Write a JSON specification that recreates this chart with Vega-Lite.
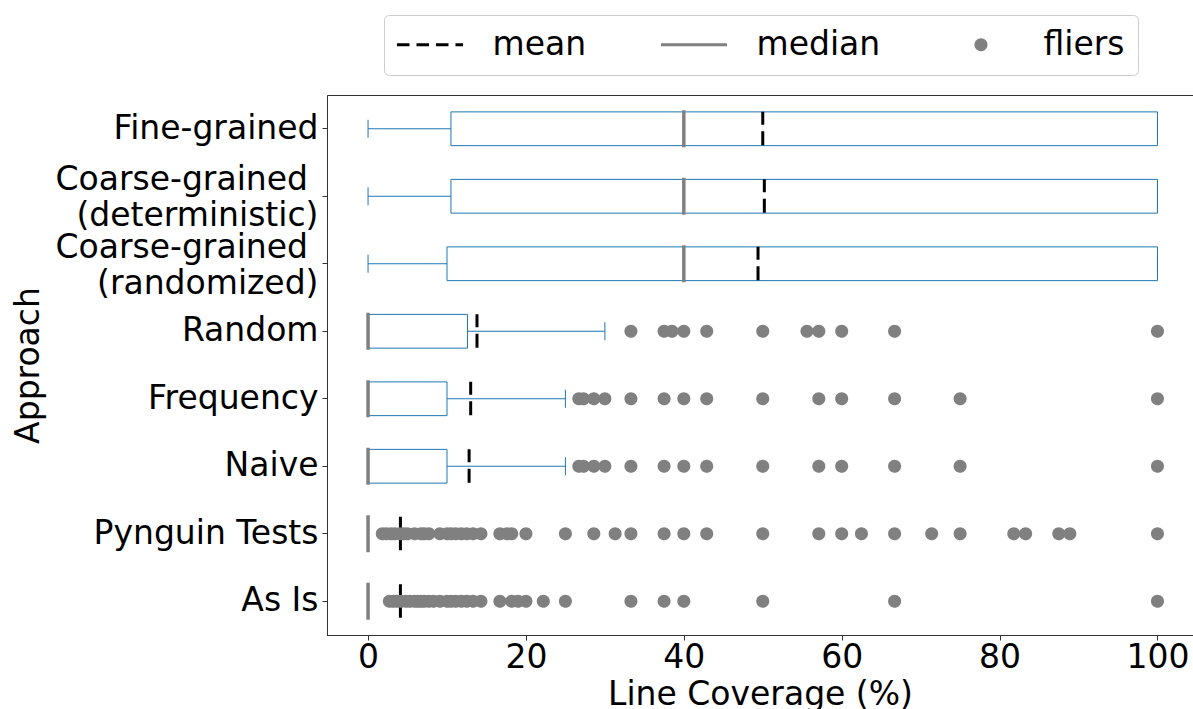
{
  "$schema": "https://vega.github.io/schema/vega-lite/v6.json",
  "width": 866,
  "height": 540,
  "autosize": {"type": "none"},
  "padding": {"left": 327, "top": 95, "right": 0, "bottom": 74},
  "background": "white",
  "config": {
    "font": "DejaVu Sans",
    "view": {"stroke": "#333333", "strokeWidth": 1},
    "axis": {
      "labelFont": "DejaVu Sans",
      "titleFont": "DejaVu Sans",
      "labelFontSize": 33,
      "titleFontSize": 33,
      "titleFontWeight": "normal",
      "labelColor": "#000000",
      "titleColor": "#000000",
      "tickColor": "#333333",
      "domainColor": "#333333",
      "tickSize": 5,
      "grid": false
    },
    "axisX": {"labelPadding": 1, "titlePadding": 4, "labelFlush": false, "labelOverlap": false},
    "axisY": {"labelPadding": 4, "labelLimit": 400, "labelLineHeight": 36},
    "legend": {
      "orient": "none",
      "legendX": 57,
      "legendY": -80,
      "direction": "horizontal",
      "padding": 13,
      "strokeColor": "#cccccc",
      "fillColor": "white",
      "cornerRadius": 5,
      "labelFont": "DejaVu Sans",
      "labelFontSize": 33,
      "labelColor": "#000000",
      "labelOffset": 46,
      "symbolOffset": 16.5,
      "symbolSize": 676,
      "symbolStrokeWidth": 3,
      "columnPadding": 67,
      "labelLimit": 300
    }
  },
  "datasets": {
    "stats": [
      {"a": "Fine-grained", "q1": 10.5, "q3": 100, "med": 40, "mean": 50.0, "lo": 0, "hi": 100},
      {"a": "Coarse-grained\u00a0\u200b\n(deterministic)", "q1": 10.5, "q3": 100, "med": 40, "mean": 50.2, "lo": 0, "hi": 100},
      {"a": "Coarse-grained\u00a0\u200b\n(randomized)", "q1": 10.0, "q3": 100, "med": 40, "mean": 49.4, "lo": 0, "hi": 100},
      {"a": "Random", "q1": 0, "q3": 12.6, "med": 0, "mean": 13.8, "lo": 0, "hi": 30},
      {"a": "Frequency", "q1": 0, "q3": 10, "med": 0, "mean": 13.0, "lo": 0, "hi": 25},
      {"a": "Naive", "q1": 0, "q3": 10, "med": 0, "mean": 12.8, "lo": 0, "hi": 25},
      {"a": "Pynguin Tests", "q1": 0, "q3": 0, "med": 0, "mean": 4.1, "lo": 0, "hi": 0},
      {"a": "As Is", "q1": 0, "q3": 0, "med": 0, "mean": 4.1, "lo": 0, "hi": 0}
    ],
    "fliers": [
      {"a": "Random", "v": 33.3, "kind": "fliers"},
      {"a": "Random", "v": 37.5, "kind": "fliers"},
      {"a": "Random", "v": 38.5, "kind": "fliers"},
      {"a": "Random", "v": 40, "kind": "fliers"},
      {"a": "Random", "v": 42.9, "kind": "fliers"},
      {"a": "Random", "v": 50, "kind": "fliers"},
      {"a": "Random", "v": 55.6, "kind": "fliers"},
      {"a": "Random", "v": 57.1, "kind": "fliers"},
      {"a": "Random", "v": 60, "kind": "fliers"},
      {"a": "Random", "v": 66.7, "kind": "fliers"},
      {"a": "Random", "v": 100, "kind": "fliers"},
      {"a": "Frequency", "v": 26.7, "kind": "fliers"},
      {"a": "Frequency", "v": 27.3, "kind": "fliers"},
      {"a": "Frequency", "v": 28.6, "kind": "fliers"},
      {"a": "Frequency", "v": 30, "kind": "fliers"},
      {"a": "Frequency", "v": 33.3, "kind": "fliers"},
      {"a": "Frequency", "v": 37.5, "kind": "fliers"},
      {"a": "Frequency", "v": 40, "kind": "fliers"},
      {"a": "Frequency", "v": 42.9, "kind": "fliers"},
      {"a": "Frequency", "v": 50, "kind": "fliers"},
      {"a": "Frequency", "v": 57.1, "kind": "fliers"},
      {"a": "Frequency", "v": 60, "kind": "fliers"},
      {"a": "Frequency", "v": 66.7, "kind": "fliers"},
      {"a": "Frequency", "v": 75, "kind": "fliers"},
      {"a": "Frequency", "v": 100, "kind": "fliers"},
      {"a": "Naive", "v": 26.7, "kind": "fliers"},
      {"a": "Naive", "v": 27.3, "kind": "fliers"},
      {"a": "Naive", "v": 28.6, "kind": "fliers"},
      {"a": "Naive", "v": 30, "kind": "fliers"},
      {"a": "Naive", "v": 33.3, "kind": "fliers"},
      {"a": "Naive", "v": 37.5, "kind": "fliers"},
      {"a": "Naive", "v": 40, "kind": "fliers"},
      {"a": "Naive", "v": 42.9, "kind": "fliers"},
      {"a": "Naive", "v": 50, "kind": "fliers"},
      {"a": "Naive", "v": 57.1, "kind": "fliers"},
      {"a": "Naive", "v": 60, "kind": "fliers"},
      {"a": "Naive", "v": 66.7, "kind": "fliers"},
      {"a": "Naive", "v": 75, "kind": "fliers"},
      {"a": "Naive", "v": 100, "kind": "fliers"},
      {"a": "Pynguin Tests", "v": 1.8, "kind": "fliers"},
      {"a": "Pynguin Tests", "v": 2.3, "kind": "fliers"},
      {"a": "Pynguin Tests", "v": 2.9, "kind": "fliers"},
      {"a": "Pynguin Tests", "v": 3.4, "kind": "fliers"},
      {"a": "Pynguin Tests", "v": 4.0, "kind": "fliers"},
      {"a": "Pynguin Tests", "v": 4.5, "kind": "fliers"},
      {"a": "Pynguin Tests", "v": 5.0, "kind": "fliers"},
      {"a": "Pynguin Tests", "v": 5.9, "kind": "fliers"},
      {"a": "Pynguin Tests", "v": 6.7, "kind": "fliers"},
      {"a": "Pynguin Tests", "v": 7.1, "kind": "fliers"},
      {"a": "Pynguin Tests", "v": 7.7, "kind": "fliers"},
      {"a": "Pynguin Tests", "v": 9.1, "kind": "fliers"},
      {"a": "Pynguin Tests", "v": 10.0, "kind": "fliers"},
      {"a": "Pynguin Tests", "v": 10.5, "kind": "fliers"},
      {"a": "Pynguin Tests", "v": 11.1, "kind": "fliers"},
      {"a": "Pynguin Tests", "v": 11.8, "kind": "fliers"},
      {"a": "Pynguin Tests", "v": 12.5, "kind": "fliers"},
      {"a": "Pynguin Tests", "v": 13.3, "kind": "fliers"},
      {"a": "Pynguin Tests", "v": 14.3, "kind": "fliers"},
      {"a": "Pynguin Tests", "v": 16.7, "kind": "fliers"},
      {"a": "Pynguin Tests", "v": 17.6, "kind": "fliers"},
      {"a": "Pynguin Tests", "v": 18.2, "kind": "fliers"},
      {"a": "Pynguin Tests", "v": 20, "kind": "fliers"},
      {"a": "Pynguin Tests", "v": 25, "kind": "fliers"},
      {"a": "Pynguin Tests", "v": 28.6, "kind": "fliers"},
      {"a": "Pynguin Tests", "v": 31.3, "kind": "fliers"},
      {"a": "Pynguin Tests", "v": 33.3, "kind": "fliers"},
      {"a": "Pynguin Tests", "v": 37.5, "kind": "fliers"},
      {"a": "Pynguin Tests", "v": 40, "kind": "fliers"},
      {"a": "Pynguin Tests", "v": 42.9, "kind": "fliers"},
      {"a": "Pynguin Tests", "v": 50, "kind": "fliers"},
      {"a": "Pynguin Tests", "v": 57.1, "kind": "fliers"},
      {"a": "Pynguin Tests", "v": 60, "kind": "fliers"},
      {"a": "Pynguin Tests", "v": 62.5, "kind": "fliers"},
      {"a": "Pynguin Tests", "v": 66.7, "kind": "fliers"},
      {"a": "Pynguin Tests", "v": 71.4, "kind": "fliers"},
      {"a": "Pynguin Tests", "v": 75, "kind": "fliers"},
      {"a": "Pynguin Tests", "v": 81.8, "kind": "fliers"},
      {"a": "Pynguin Tests", "v": 83.3, "kind": "fliers"},
      {"a": "Pynguin Tests", "v": 87.5, "kind": "fliers"},
      {"a": "Pynguin Tests", "v": 88.9, "kind": "fliers"},
      {"a": "Pynguin Tests", "v": 100, "kind": "fliers"},
      {"a": "As Is", "v": 2.7, "kind": "fliers"},
      {"a": "As Is", "v": 3.2, "kind": "fliers"},
      {"a": "As Is", "v": 3.7, "kind": "fliers"},
      {"a": "As Is", "v": 4.2, "kind": "fliers"},
      {"a": "As Is", "v": 4.8, "kind": "fliers"},
      {"a": "As Is", "v": 5.3, "kind": "fliers"},
      {"a": "As Is", "v": 5.9, "kind": "fliers"},
      {"a": "As Is", "v": 6.3, "kind": "fliers"},
      {"a": "As Is", "v": 6.7, "kind": "fliers"},
      {"a": "As Is", "v": 7.1, "kind": "fliers"},
      {"a": "As Is", "v": 7.7, "kind": "fliers"},
      {"a": "As Is", "v": 8.3, "kind": "fliers"},
      {"a": "As Is", "v": 9.1, "kind": "fliers"},
      {"a": "As Is", "v": 10, "kind": "fliers"},
      {"a": "As Is", "v": 10.5, "kind": "fliers"},
      {"a": "As Is", "v": 11.1, "kind": "fliers"},
      {"a": "As Is", "v": 11.8, "kind": "fliers"},
      {"a": "As Is", "v": 12.5, "kind": "fliers"},
      {"a": "As Is", "v": 13.3, "kind": "fliers"},
      {"a": "As Is", "v": 14.3, "kind": "fliers"},
      {"a": "As Is", "v": 16.7, "kind": "fliers"},
      {"a": "As Is", "v": 18.2, "kind": "fliers"},
      {"a": "As Is", "v": 19.0, "kind": "fliers"},
      {"a": "As Is", "v": 20, "kind": "fliers"},
      {"a": "As Is", "v": 22.2, "kind": "fliers"},
      {"a": "As Is", "v": 25, "kind": "fliers"},
      {"a": "As Is", "v": 33.3, "kind": "fliers"},
      {"a": "As Is", "v": 37.5, "kind": "fliers"},
      {"a": "As Is", "v": 40, "kind": "fliers"},
      {"a": "As Is", "v": 50, "kind": "fliers"},
      {"a": "As Is", "v": 66.7, "kind": "fliers"},
      {"a": "As Is", "v": 100, "kind": "fliers"}
    ]
  },
  "encoding": {
    "y": {
      "field": "a",
      "type": "nominal",
      "title": "Approach",
      "sort": null,
      "scale": {
        "domain": ["Fine-grained", "Coarse-grained\u00a0\u200b\n(deterministic)", "Coarse-grained\u00a0\u200b\n(randomized)", "Random", "Frequency", "Naive", "Pynguin Tests", "As Is"],
        "paddingInner": 0,
        "paddingOuter": 0
      },
      "axis": {
        "labelExpr": "split(datum.label, '\\n')",
        "labelOffset": {"expr": "indexof(datum.value, '\\n') >= 0 ? -16 : 0"},
        "titleX": -289,
        "titleY": 270,
        "titleAngle": -90,
        "titleAlign": "center",
        "titleBaseline": "alphabetic"
      }
    }
  },
  "layer": [
    {
      "data": {"name": "stats"},
      "mark": {"type": "bar", "height": {"band": 0.5}, "fill": "white", "fillOpacity": 0, "stroke": "#1f77b4", "strokeWidth": 1},
      "encoding": {
        "x": {"field": "q1", "type": "quantitative", "title": "Line Coverage (%)", "scale": {"domain": [-5.2, 104.5], "nice": false, "zero": false}, "axis": {"values": [0, 20, 40, 60, 80, 100]}},
        "x2": {"field": "q3"}
      }
    },
    {
      "data": {"name": "stats"},
      "mark": {"type": "rule", "color": "#1f77b4", "strokeWidth": 1},
      "encoding": {
        "x": {"field": "lo", "type": "quantitative", "title": "Line Coverage (%)", "scale": {"domain": [-5.2, 104.5], "nice": false, "zero": false}},
        "x2": {"field": "q1"}
      }
    },
    {
      "data": {"name": "stats"},
      "mark": {"type": "rule", "color": "#1f77b4", "strokeWidth": 1},
      "encoding": {
        "x": {"field": "q3", "type": "quantitative", "title": "Line Coverage (%)", "scale": {"domain": [-5.2, 104.5], "nice": false, "zero": false}},
        "x2": {"field": "hi"}
      }
    },
    {
      "data": {"name": "stats"},
      "mark": {"type": "tick", "color": "#1f77b4", "size": 18, "thickness": 1, "opacity": 1},
      "encoding": {
        "x": {"field": "lo", "type": "quantitative", "title": "Line Coverage (%)", "scale": {"domain": [-5.2, 104.5], "nice": false, "zero": false}}
      }
    },
    {
      "data": {"name": "stats"},
      "mark": {"type": "tick", "color": "#1f77b4", "size": 18, "thickness": 1, "opacity": 1},
      "encoding": {
        "x": {"field": "hi", "type": "quantitative", "title": "Line Coverage (%)", "scale": {"domain": [-5.2, 104.5], "nice": false, "zero": false}}
      }
    },
    {
      "data": {"name": "stats"},
      "mark": {"type": "tick", "color": "#808080", "size": 37, "thickness": 3.5, "opacity": 1},
      "encoding": {
        "x": {"field": "med", "type": "quantitative", "title": "Line Coverage (%)", "scale": {"domain": [-5.2, 104.5], "nice": false, "zero": false}}
      }
    },
    {
      "data": {"name": "stats"},
      "mark": {"type": "tick", "color": "#000000", "size": 13, "thickness": 3, "opacity": 1, "yOffset": -10.5},
      "encoding": {
        "x": {"field": "mean", "type": "quantitative", "title": "Line Coverage (%)", "scale": {"domain": [-5.2, 104.5], "nice": false, "zero": false}}
      }
    },
    {
      "data": {"name": "stats"},
      "mark": {"type": "tick", "color": "#000000", "size": 14, "thickness": 3, "opacity": 1, "yOffset": 9.5},
      "encoding": {
        "x": {"field": "mean", "type": "quantitative", "title": "Line Coverage (%)", "scale": {"domain": [-5.2, 104.5], "nice": false, "zero": false}}
      }
    },
    {
      "data": {"name": "fliers"},
      "mark": {"type": "point", "filled": true, "size": 676, "strokeWidth": 3, "opacity": 1},
      "encoding": {
        "x": {"field": "v", "type": "quantitative", "title": "Line Coverage (%)", "scale": {"domain": [-5.2, 104.5], "nice": false, "zero": false}},
        "fill": {"field": "kind", "type": "nominal", "scale": {"domain": ["mean", "median", "fliers"], "range": ["#000000", "#808080", "#808080"]}, "legend": {"title": null}},
        "stroke": {"field": "kind", "type": "nominal", "scale": {"domain": ["mean", "median", "fliers"], "range": ["#000000", "#808080", "#808080"]}, "legend": {"title": null}},
        "shape": {"field": "kind", "type": "nominal", "scale": {"domain": ["mean", "median", "fliers"], "range": ["M-2.54,0L2.54,0", "M-2.54,0L2.54,0", "M-0.385,0A0.385,0.385,0,1,0,0.385,0A0.385,0.385,0,1,0,-0.385,0Z"]}, "legend": {"title": null}},
        "strokeDash": {"field": "kind", "type": "nominal", "scale": {"domain": ["mean", "median", "fliers"], "range": [[12.5, 7], [1, 0], [1, 0]]}, "legend": {"title": null}}
      }
    }
  ]
}
